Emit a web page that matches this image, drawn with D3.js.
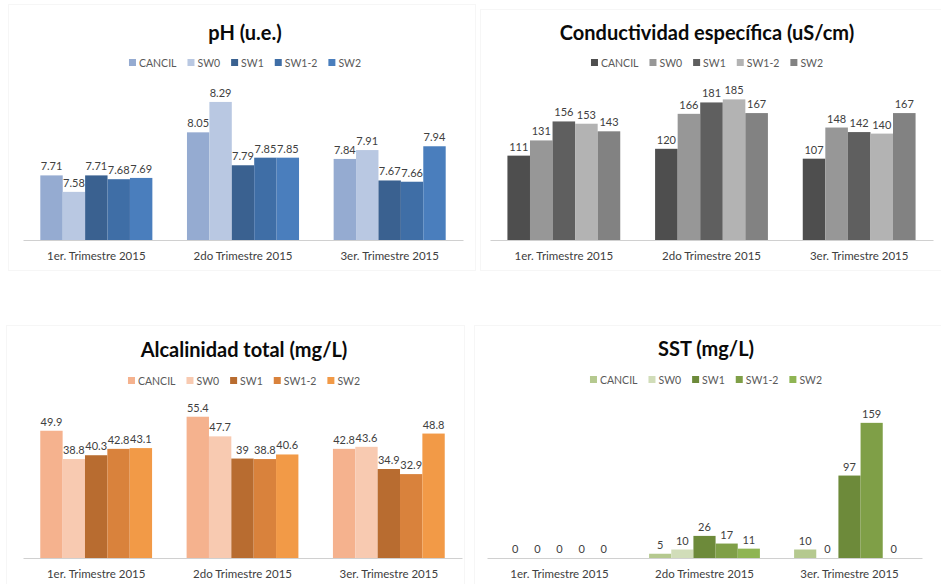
<!DOCTYPE html>
<html>
<head>
<meta charset="utf-8">
<script src="https://cdn.jsdelivr.net/npm/d3@7"></script>
<style>
  html, body { margin: 0; padding: 0; background: #ffffff; }
  svg { display: block; font-family: Lato, "Open Sans", "Liberation Sans", sans-serif; }
</style>
</head>
<body>
<svg id="chart" width="941" height="584"></svg>
<script>
// ---- data ----
const categories = ["1er. Trimestre 2015", "2do Trimestre 2015", "3er. Trimestre 2015"];
const seriesNames = ["CANCIL", "SW0", "SW1", "SW1-2", "SW2"];

const phValues = [
  [7.71, 7.58, 7.71, 7.68, 7.69],
  [8.05, 8.29, 7.79, 7.85, 7.85],
  [7.84, 7.91, 7.67, 7.66, 7.94]
];
const conductividadValues = [
  [111, 131, 156, 153, 143],
  [120, 166, 181, 185, 167],
  [107, 148, 142, 140, 167]
];
const alcalinidadValues = [
  [49.9, 38.8, 40.3, 42.8, 43.1],
  [55.4, 47.7, 39, 38.8, 40.6],
  [42.8, 43.6, 34.9, 32.9, 48.8]
];
const sstValues = [
  [0, 0, 0, 0, 0],
  [5, 10, 26, 17, 11],
  [10, 0, 97, 159, 0]
];

const titles = ["pH (u.e.)", "Conductividad específica (uS/cm)", "Alcalinidad total (mg/L)", "SST (mg/L)"];

// ---- styles / layout ----
const phColors = ["#95abd1", "#b9c8e2", "#3a6190", "#3f6ea6", "#4a7ebd"];
const condColors = ["#4e4e4e", "#979797", "#5f5f5f", "#b3b3b3", "#828282"];
const alcColors = ["#f5b28e", "#f8cab1", "#b86c30", "#d9823c", "#f29a47"];
const sstColors = ["#b5c98f", "#d1ddb9", "#6d8a3a", "#7f9f47", "#8fb553"];

const panels = [
  { title: titles[0], values: phValues, colors: phColors, domain: [7.2, 8.4],
    x0: 23, x1: 463, base: 240, top: 88, cx: 245, titleY: 40, legendY: 63,
    frame: [8, 4, 467, 266] },
  { title: titles[1], values: conductividadValues, colors: condColors, domain: [0, 200],
    x0: 490, x1: 933, base: 240, top: 88, cx: 707, titleY: 40, legendY: 63,
    frame: [480, 9, 461, 261] },
  { title: titles[2], values: alcalinidadValues, colors: alcColors, domain: [0, 60],
    x0: 23, x1: 462, base: 558, top: 405, cx: 244, titleY: 357, legendY: 381,
    frame: [6, 325, 458, 259] },
  { title: titles[3], values: sstValues, colors: sstColors, domain: [0, 180],
    x0: 487, x1: 922, base: 558, top: 405, cx: 706, titleY: 356, legendY: 380,
    frame: [474, 325, 467, 259] }
];

const svg = d3.select("#chart");

panels.forEach(p => {
  const g = svg.append("g");

  // faint chart frame
  g.append("rect")
    .attr("x", p.frame[0] + 0.5).attr("y", p.frame[1] + 0.5)
    .attr("width", p.frame[2]).attr("height", p.frame[3])
    .attr("fill", "none").attr("stroke", "#f6f6f6");

  const x = d3.scaleBand().domain(categories).range([p.x0, p.x1])
    .paddingInner(0.236).paddingOuter(0.118);
  const xs = d3.scaleBand().domain(seriesNames).range([0, x.bandwidth()]).padding(0);
  const y = d3.scaleLinear().domain(p.domain).range([p.base, p.top]);

  // title
  g.append("text")
    .attr("x", p.cx).attr("y", p.titleY)
    .attr("text-anchor", "middle")
    .attr("font-size", 20).attr("font-weight", "bold").attr("fill", "#0a0a0a")
    .text(p.title);

  // legend
  const leg = g.append("g");
  let lx = 0;
  seriesNames.forEach((s, i) => {
    const it = leg.append("g").attr("transform", `translate(${lx},0)`);
    it.append("rect").attr("x", 0).attr("y", -4).attr("width", 7).attr("height", 7)
      .attr("fill", p.colors[i]);
    const t = it.append("text").attr("x", 10).attr("y", 0).attr("dy", "0.35em")
      .attr("font-size", 10.5).attr("fill", "#595959").text(s);
    lx += 10 + t.node().getComputedTextLength() + 11;
  });
  const legW = lx - 11;
  leg.attr("transform", `translate(${p.cx - legW / 2},${p.legendY})`);

  // bars
  const groups = g.selectAll(".grp").data(p.values).join("g")
    .attr("transform", (d, i) => `translate(${x(categories[i])},0)`);

  groups.selectAll("rect").data(d => d.map((v, j) => ({ v, j }))).join("rect")
    .attr("x", d => xs(seriesNames[d.j]))
    .attr("width", xs.bandwidth())
    .attr("y", d => y(Math.max(d.v, p.domain[0])))
    .attr("height", d => p.base - y(Math.max(d.v, p.domain[0])))
    .attr("fill", d => p.colors[d.j]);

  groups.selectAll("text").data(d => d.map((v, j) => ({ v, j }))).join("text")
    .attr("x", d => xs(seriesNames[d.j]) + xs.bandwidth() / 2)
    .attr("y", d => y(Math.max(d.v, p.domain[0])) - 5)
    .attr("text-anchor", "middle")
    .attr("font-size", 11).attr("fill", "#404040")
    .text(d => d.v);

  // category axis
  const ax = g.append("g").attr("transform", `translate(0,${p.base})`)
    .call(d3.axisBottom(x).tickSizeInner(0).tickSizeOuter(0).tickPadding(12));
  ax.select(".domain").attr("stroke", "#d0d0d0").attr("stroke-width", 1);
  ax.selectAll("text").attr("font-size", 11.5).attr("fill", "#404040")
    .attr("font-family", "Lato, 'Open Sans', sans-serif");
});
</script>
</body>
</html>
